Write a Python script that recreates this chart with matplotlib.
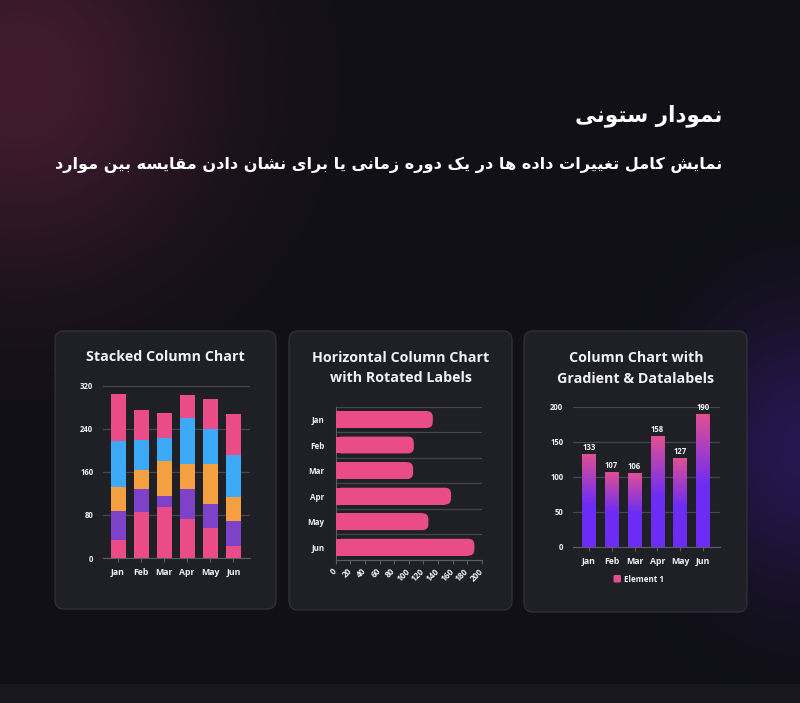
import numpy as np
import matplotlib
matplotlib.use("Agg")
import matplotlib.pyplot as plt
from matplotlib.patches import FancyBboxPatch

# ---------------- data ----------------
months = ["Jan", "Feb", "Mar", "Apr", "May", "Jun"]
stack_s1 = [33, 85, 95, 73, 56, 23]
stack_s2 = [54, 44, 20, 56, 45, 46]
stack_s3 = [45, 34, 65, 45, 74, 45]
stack_s4 = [86, 57, 44, 86, 65, 78]
stack_s5 = [88, 55, 46, 43, 56, 76]
stack_ticks = [0, 80, 160, 240, 320]
element1 = [133, 107, 106, 158, 127, 190]
hbar_ticks = [0, 20, 40, 60, 80, 100, 120, 140, 160, 180, 200]
grad_ticks = [0, 50, 100, 150, 200]
title_fa = "نمودار ستونی"
subtitle_fa = "نمایش کامل تغییرات داده ها در یک دوره زمانی یا برای نشان دادن مقایسه بین موارد"
card_titles = ["Stacked Column Chart",
               "Horizontal Column Chart\nwith Rotated Labels",
               "Column Chart with\nGradient & Datalabels"]
legend_label = "Element 1"

# ------------- simple Persian shaping (presentation forms + RTL order) -------------
FORMS = {  # isolated, final, initial, medial
    'ا': ('\uFE8D', '\uFE8E', None, None),
    'ب': ('\uFE8F', '\uFE90', '\uFE91', '\uFE92'),
    'ت': ('\uFE95', '\uFE96', '\uFE97', '\uFE98'),
    'د': ('\uFEA9', '\uFEAA', None, None),
    'ر': ('\uFEAD', '\uFEAE', None, None),
    'ز': ('\uFEAF', '\uFEB0', None, None),
    'س': ('\uFEB1', '\uFEB2', '\uFEB3', '\uFEB4'),
    'ش': ('\uFEB5', '\uFEB6', '\uFEB7', '\uFEB8'),
    'غ': ('\uFECD', '\uFECE', '\uFECF', '\uFED0'),
    'ق': ('\uFED5', '\uFED6', '\uFED7', '\uFED8'),
    'ل': ('\uFEDD', '\uFEDE', '\uFEDF', '\uFEE0'),
    'م': ('\uFEE1', '\uFEE2', '\uFEE3', '\uFEE4'),
    'ن': ('\uFEE5', '\uFEE6', '\uFEE7', '\uFEE8'),
    'ه': ('\uFEE9', '\uFEEA', '\uFEEB', '\uFEEC'),
    'و': ('\uFEED', '\uFEEE', None, None),
    'ی': ('\uFBFC', '\uFBFD', '\uFBFE', '\uFBFF'),
    'ک': ('\uFB8E', '\uFB8F', '\uFB90', '\uFB91'),
}


def shape_fa(s):
    out = []
    for i, ch in enumerate(s):
        if ch not in FORMS:
            out.append(ch)
            continue
        prev = s[i - 1] if i > 0 else None
        nxt = s[i + 1] if i + 1 < len(s) else None
        join_prev = prev in FORMS and FORMS[prev][2] is not None
        join_next = nxt in FORMS and FORMS[ch][2] is not None
        iso, fin, ini, med = FORMS[ch]
        if join_prev and join_next:
            out.append(med)
        elif join_prev:
            out.append(fin)
        elif join_next:
            out.append(ini)
        else:
            out.append(iso)
    return "".join(out)[::-1]


# ---------------- figure ----------------
W, H = 800, 703
fig = plt.figure(figsize=(W / 100, H / 100), dpi=100)

bg = fig.add_axes([0, 0, 1, 1])
yy, xx = np.mgrid[0:H, 0:W].astype(float)
base = np.array([16, 16, 22]) / 255.0
img = np.ones((H, W, 3)) * base
g1 = np.array([66, 27, 48]) / 255.0
w1 = np.exp(-(((xx - 20) / 190.0) ** 2 + ((yy - 80) / 190.0) ** 2))
img += (g1 - base) * w1[..., None]
g2 = np.array([40, 22, 80]) / 255.0
w2 = np.exp(-(((xx - 800) / 100.0) ** 2 + ((yy - 450) / 130.0) ** 2))
img += (g2 - base) * w2[..., None]
img[684:, :, :] = np.array([24, 24, 30]) / 255.0
bg.imshow(np.clip(img, 0, 1), extent=[0, W, H, 0], interpolation="bilinear")
bg.set_xlim(0, W)
bg.set_ylim(H, 0)
bg.axis("off")

TXT = "#f2f2f5"
GRID = "#45464e"
AXC = "#5c5d66"
TITLE_FONT = ["Open Sans", "DejaVu Sans"]
TICK_FONT = ["Open Sans", "DejaVu Sans"]

# header
bg.text(722, 116, shape_fa(title_fa), ha="right", va="center", color="white",
        fontsize=15.5, fontweight="bold", family="DejaVu Sans")
bg.text(722, 165, shape_fa(subtitle_fa), ha="right", va="center", color="white",
        fontsize=11.6, fontweight="bold", family="DejaVu Sans")

# cards
cards = [(55, 331, 221, 278), (289, 331, 223, 279), (524, 331, 223, 281)]
for (x, y, w, h) in cards:
    bg.add_patch(FancyBboxPatch((x, y), w, h, boxstyle="round,pad=0,rounding_size=9",
                                facecolor="#1f2026", edgecolor="#30313a", lw=0.9))

bg.text(165.5, 357, card_titles[0], ha="center", va="center", color=TXT,
        fontsize=10.3, fontweight="bold", family=TITLE_FONT)
bg.text(401, 368, card_titles[1], ha="center", va="center", color=TXT,
        fontsize=10.3, fontweight="bold", family=TITLE_FONT, linespacing=1.6)
bg.text(636, 368.5, card_titles[2], ha="center", va="center", color=TXT,
        fontsize=10.3, fontweight="bold", family=TITLE_FONT, linespacing=1.6)


def px_rect(x0, y0, x1, y1):
    return [x0 / W, 1 - y1 / H, (x1 - x0) / W, (y1 - y0) / H]


def style_axes(ax):
    ax.set_facecolor("none")
    for s in ax.spines.values():
        s.set_visible(False)


def bold_ticks(ax):
    for t in ax.get_xticklabels() + ax.get_yticklabels():
        t.set_fontweight("bold")
        t.set_family(TICK_FONT)


# ---------------- chart 1: stacked ----------------
ax1 = fig.add_axes(px_rect(103, 386, 250, 558))
style_axes(ax1)
x = np.arange(len(months))
colors1 = ["#EA4C89", "#7D42C8", "#F5A040", "#3DAAF7", "#EA4C89"]
bottom = np.zeros(len(months))
for vals, c in zip([stack_s1, stack_s2, stack_s3, stack_s4, stack_s5], colors1):
    ax1.bar(x, vals, 0.65, bottom=bottom, color=c, zorder=3)
    bottom += np.array(vals)
ax1.set_xlim(-0.65, 5.72)
ax1.set_ylim(0, 320)
ax1.set_yticks(stack_ticks)
ax1.set_xticks(x)
ax1.set_xticklabels(months)
ax1.yaxis.grid(True, color=GRID, lw=0.9)
ax1.set_axisbelow(True)
ax1.spines["bottom"].set_visible(True)
ax1.spines["bottom"].set_color(AXC)
ax1.tick_params(axis="y", length=0, pad=7, labelsize=5.6, labelcolor=TXT)
ax1.tick_params(axis="x", length=3, color=AXC, pad=4, labelsize=6.3, labelcolor=TXT)
bold_ticks(ax1)

# ---------------- chart 2: horizontal ----------------
ax2 = fig.add_axes(px_rect(335.7, 406.7, 481.7, 560))
style_axes(ax2)
y = np.arange(len(months))
bar_h = 0.66
hb = ax2.barh(y, element1, bar_h, color="#EA4C89", zorder=3, lw=0)
ax2.set_xlim(0, 200)
ax2.set_ylim(5.5, -0.5)
# rounded right end
px_per_x = (481.7 - 335.7) / 200.0
px_per_y = (560 - 406.7) / 6.0
r_px = 6.0
r_x = r_px / px_per_x
aspect = (r_px / px_per_y) / r_x
for rect in hb:
    v = rect.get_width()
    rect.set_width(max(v - r_x, 0))
    ax2.add_patch(FancyBboxPatch((rect.get_x(), rect.get_y()), v, rect.get_height(),
                                 boxstyle=f"round,pad=0,rounding_size={r_x}",
                                 mutation_aspect=aspect, facecolor="#EA4C89",
                                 edgecolor="none", zorder=3))
for b in np.arange(-0.5, 6.0, 1.0):
    ax2.axhline(b, color=GRID, lw=0.9, zorder=1)
ax2.spines["bottom"].set_visible(True)
ax2.spines["bottom"].set_color(AXC)
ax2.spines["left"].set_visible(True)
ax2.spines["left"].set_color(AXC)
ax2.set_yticks(y)
ax2.set_yticklabels(months)
ax2.set_xticks(hbar_ticks)
ax2.set_xticklabels([str(t) for t in hbar_ticks], rotation=45, ha="right",
                    va="center", rotation_mode="anchor")
ax2.tick_params(axis="y", length=0, pad=8, labelsize=5.8, labelcolor=TXT)
ax2.tick_params(axis="x", length=3, color=AXC, pad=4, labelsize=6, labelcolor=TXT)
bold_ticks(ax2)

# ---------------- chart 3: gradient ----------------
ax3 = fig.add_axes(px_rect(573, 406.7, 719.7, 547))
style_axes(ax3)
bars = ax3.bar(x, element1, 0.6, color="none", zorder=3)
pink = np.array([0xE2, 0x50, 0x91]) / 255.0
violet = np.array([0x6C, 0x2C, 0xF5]) / 255.0
for b in bars:
    hgt = b.get_height()
    n = 200
    t = np.linspace(0, 1, n)[:, None]  # 0 = top, 1 = bottom
    f = np.clip(t / 0.55, 0, 1)
    grad = pink * (1 - f[..., None]) + violet * f[..., None]
    grad = np.repeat(grad, 2, axis=1)
    im = ax3.imshow(grad, extent=[b.get_x(), b.get_x() + b.get_width(), 0, hgt],
                    aspect="auto", origin="upper", zorder=3, interpolation="bilinear")
    im.set_clip_path(b)
    ax3.text(b.get_x() + b.get_width() / 2, hgt + 2.5, f"{int(hgt)}", ha="center",
             va="bottom", color=TXT, fontsize=5.6, fontweight="bold", family=TICK_FONT,
             zorder=5)
ax3.set_xlim(-0.69, 5.72)
ax3.set_ylim(0, 200)
ax3.set_yticks(grad_ticks)
ax3.set_xticks(x)
ax3.set_xticklabels(months)
ax3.yaxis.grid(True, color=GRID, lw=0.9)
ax3.set_axisbelow(True)
ax3.spines["bottom"].set_visible(True)
ax3.spines["bottom"].set_color(AXC)
ax3.tick_params(axis="y", length=0, pad=7, labelsize=5.6, labelcolor=TXT)
ax3.tick_params(axis="x", length=3, color=AXC, pad=4, labelsize=6.3, labelcolor=TXT)
bold_ticks(ax3)

# legend
bg.add_patch(FancyBboxPatch((613.5, 575), 7.5, 7.5, boxstyle="round,pad=0,rounding_size=1.5",
                            facecolor="#E2508F", edgecolor="none"))
bg.text(624, 579, legend_label, ha="left", va="center", color=TXT, fontsize=5.8,
        fontweight="bold", family=TICK_FONT)

fig.savefig("out.png", dpi=100)
